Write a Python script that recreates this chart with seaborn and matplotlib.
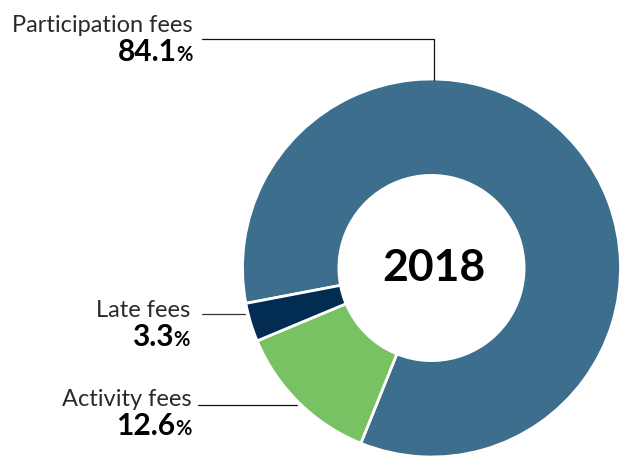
import matplotlib
matplotlib.use("Agg")
import matplotlib.pyplot as plt
import seaborn as sns

# dados do grafico (ordem no sentido horario a partir da fatia azul)
categorias = ["Participation fees", "Activity fees", "Late fees"]
valores = [84.1, 12.6, 3.3]
cores = ["#3d6e8e", "#79c263", "#022c52"]
ano = "2018"

sns.set_style("white")
plt.rcParams['font.family'] = ['Lato', 'DejaVu Sans']

W, H = 621, 460
fig = plt.figure(figsize=(W / 100, H / 100), dpi=100)
ax = fig.add_axes([0, 0, 1, 1])

def Y(y):
    # coordenada em pixels (de cima para baixo) -> dados
    return H - y

cx, cy, raio = 431.5, Y(269), 189
paleta = sns.color_palette(cores)
ax.pie(valores, colors=paleta, startangle=190.8, counterclock=False,
       center=(cx, cy), radius=raio,
       wedgeprops=dict(width=raio * 0.51, edgecolor='white', linewidth=2))
ax.set_xlim(0, W)
ax.set_ylim(0, H)
ax.set_aspect('equal')
ax.axis('off')

ax.text(cx + 2, cy + 1, ano, ha='center', va='center', fontsize=32, fontweight='bold', color='black')

# rotulos: (x direita, baseline nome, baseline percentual)
rotulos = {
    "Participation fees": (193, 31.5, 61),
    "Late fees": (190, 317, 346.5),
    "Activity fees": (192, 406, 435.5),
}
fig.canvas.draw()
renderer = fig.canvas.get_renderer()
for cat, val in zip(categorias, valores):
    xr, yb1, yb2 = rotulos[cat]
    ax.text(xr, Y(yb1), cat, ha='right', va='baseline', fontsize=17, fontweight='normal', color='#2a2a2a')
    pct = ax.text(xr, Y(yb2), '%', ha='right', va='baseline', fontsize=14.5, fontweight='bold', color='black')
    larg = pct.get_window_extent(renderer).width
    ax.text(xr - larg, Y(yb2), f'{val:.1f}', ha='right', va='baseline', fontsize=21.5, fontweight='bold', color='black')

# linhas de chamada
ax.plot([202, 433.5, 433.5], [Y(40), Y(40), Y(81)], color='#111111', lw=0.9)
ax.plot([202, 245], [Y(315), Y(315)], color='#333333', lw=0.9)
ax.plot([198, 297], [Y(405.5), Y(405.5)], color='#111111', lw=0.9)

fig.savefig('out.png', dpi=100)
plt.close(fig)
